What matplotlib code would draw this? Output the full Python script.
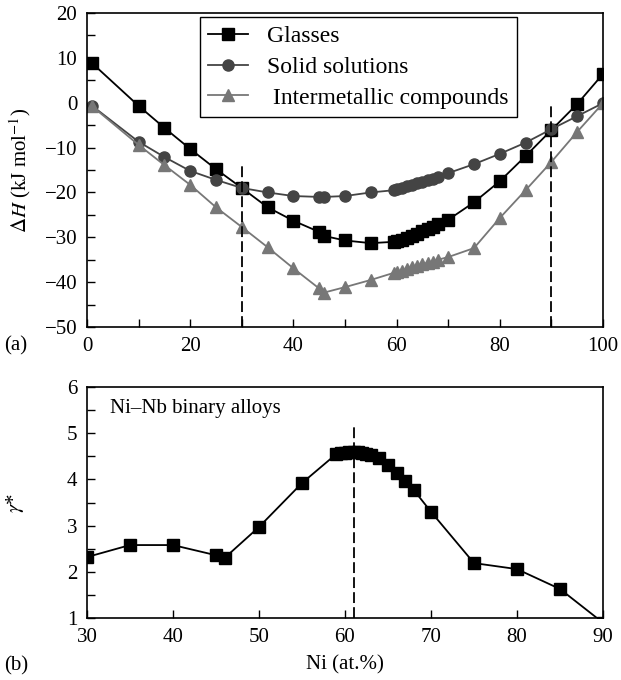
import matplotlib.pyplot as plt
from matplotlib.ticker import MultipleLocator

plt.rcParams['font.family'] = ['Liberation Serif', 'DejaVu Serif']
plt.rcParams['mathtext.fontset'] = 'stix'
plt.rcParams['font.size'] = 15

# (a) formation enthalpy vs Ni content
ni_a = [1, 10, 15, 20, 25, 30, 35, 40, 45, 46, 50, 55, 59.5, 60, 61, 62, 63, 64,
        65, 66, 67, 68, 70, 75, 80, 85, 90, 95, 100]
glasses = [8.8, -0.7, -5.6, -10.3, -14.8, -19.0, -23.3, -26.3, -28.8, -29.7, -30.7,
           -31.3, -31.0, -30.8, -30.5, -30.1, -29.7, -29.2, -28.7, -28.2, -27.6,
           -27.0, -26.1, -22.2, -17.5, -11.9, -6.1, -0.3, 6.4]
solid_sol = [-0.7, -8.7, -12.1, -15.2, -17.2, -19.0, -20.0, -20.8, -21.0, -21.0, -20.8,
             -20.0, -19.5, -19.3, -19.0, -18.6, -18.3, -17.9, -17.6, -17.3, -16.9,
             -16.5, -15.7, -13.7, -11.4, -8.9, -5.9, -3.0, -0.1]
intermet = [-0.8, -9.4, -13.9, -18.3, -23.3, -27.7, -32.2, -36.9, -41.4, -42.3, -41.1,
            -39.5, -37.9, -37.7, -37.4, -37.1, -36.7, -36.4, -36.0, -35.7, -35.4,
            -35.0, -34.4, -32.4, -25.7, -19.5, -13.2, -6.5, -0.1]

# (b) gamma* vs Ni content
ni_b = [30, 35, 40, 45, 46, 50, 55, 59, 59.5, 60, 60.5, 61, 61.5, 62, 62.5, 63,
        64, 65, 66, 67, 68, 70, 75, 80, 85, 90]
gamma = [2.32, 2.58, 2.58, 2.36, 2.30, 2.97, 3.92, 4.55, 4.57, 4.58, 4.60, 4.60,
         4.59, 4.58, 4.56, 4.53, 4.46, 4.32, 4.14, 3.96, 3.77, 3.30, 2.19, 2.06,
         1.63, 0.90]

fig = plt.figure(figsize=(6.21, 6.8), dpi=100)
ax1 = fig.add_axes([0.140, 0.519, 0.831, 0.462])
ax2 = fig.add_axes([0.140, 0.091, 0.831, 0.340])

ax1.plot(ni_a, glasses, '-s', color='black', ms=9, lw=1.3, label='Glasses')
ax1.plot(ni_a, solid_sol, '-o', color='#444444', ms=8, lw=1.3, label='Solid solutions')
ax1.plot(ni_a, intermet, '-^', color='#777777', ms=8, lw=1.3,
         label=' Intermetallic compounds')
ax1.plot([30, 30], [-50, -14], 'k--', lw=1.3, dashes=(6, 2.3))
ax1.plot([90, 90], [-50, -0.7], 'k--', lw=1.3, dashes=(6, 2.3))
ax1.set_xlim(0, 100)
ax1.set_ylim(-50, 20)
ax1.xaxis.set_major_locator(MultipleLocator(20))
ax1.xaxis.set_minor_locator(MultipleLocator(10))
ax1.yaxis.set_major_locator(MultipleLocator(10))
ax1.yaxis.set_minor_locator(MultipleLocator(5))
ax1.set_ylabel(r'$\Delta H$ (kJ mol$^{-1}$)')
ax1.yaxis.set_label_coords(-0.105, 0.5)
ax1.legend(loc='upper left', bbox_to_anchor=(0.219, 0.987), borderaxespad=0,
           fancybox=False, edgecolor='black', framealpha=1, handlelength=1.7,
           handletextpad=0.8, fontsize=17, labelspacing=0.4, borderpad=0.35)
ax1.text(-0.16, -0.06, '(a)', transform=ax1.transAxes, ha='left', va='center')

ax2.plot(ni_b, gamma, '-s', color='black', ms=9, lw=1.3)
ax2.plot([61, 61], [1, 5.2], 'k--', lw=1.3, dashes=(6, 2.3))
ax2.set_xlim(30, 90)
ax2.set_ylim(1, 6)
ax2.xaxis.set_major_locator(MultipleLocator(10))
ax2.yaxis.set_major_locator(MultipleLocator(1))
ax2.yaxis.set_minor_locator(MultipleLocator(0.5))
ax2.set_ylabel(r'$\gamma$*')
ax2.yaxis.set_label_coords(-0.118, 0.5)
ax2.set_xlabel('Ni (at.%)', labelpad=6)
ax2.text(0.045, 0.905, 'Ni\u2013Nb binary alloys', transform=ax2.transAxes,
         ha='left', va='center')
ax2.text(-0.16, -0.205, '(b)', transform=ax2.transAxes, ha='left', va='center')

for ax in (ax1, ax2):
    ax.tick_params(which='both', direction='in', top=False, right=False, length=6,
                   width=1, pad=7)
    for s in ax.spines.values():
        s.set_linewidth(1.2)

fig.savefig('out.png', dpi=100)
